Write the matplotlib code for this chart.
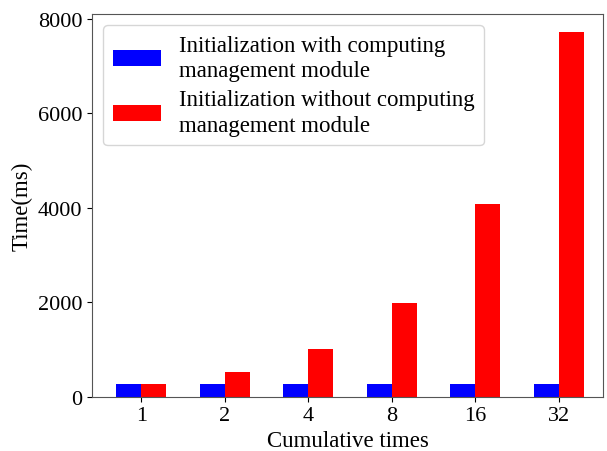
import numpy as np
import matplotlib.pyplot as plt

plt.rcParams['font.family'] = ['Liberation Serif', 'DejaVu Serif']

categories = ['1', '2', '4', '8', '16', '32']
with_module = [260, 260, 260, 260, 260, 260]
without_module = [260, 520, 1020, 1990, 4070, 7720]
labels = ['Initialization with computing\nmanagement module',
          'Initialization without computing\nmanagement module']

x = np.arange(len(categories))
width = 0.3

fig = plt.figure(figsize=(6.07, 4.52), dpi=100)
ax = fig.add_axes([0.1516, 0.12, 0.842, 0.847])

ax.bar(x, with_module, -width, align='edge', color='blue', label=labels[0])
ax.bar(x, without_module, width, align='edge', color='red', label=labels[1])

ax.set_xticks(x)
ax.set_xticklabels(categories)
ax.set_xlim(-0.59, 5.53)
ax.set_ylim(0, 8100)
ax.set_yticks([0, 2000, 4000, 6000, 8000])
ax.tick_params(labelsize=16)
for s in ax.spines.values():
    s.set_color('#555555')

ax.set_xlabel('Cumulative times', fontsize=16.5, labelpad=3)
ax.set_ylabel('Time(ms)', fontsize=16.5)
leg = ax.legend(loc='upper left', fontsize=16.5, handlelength=2.1,
                labelspacing=0.35, borderaxespad=0.5)
for t in leg.get_texts():
    t.set_linespacing(1.3)

fig.savefig('out.png', dpi=100)
